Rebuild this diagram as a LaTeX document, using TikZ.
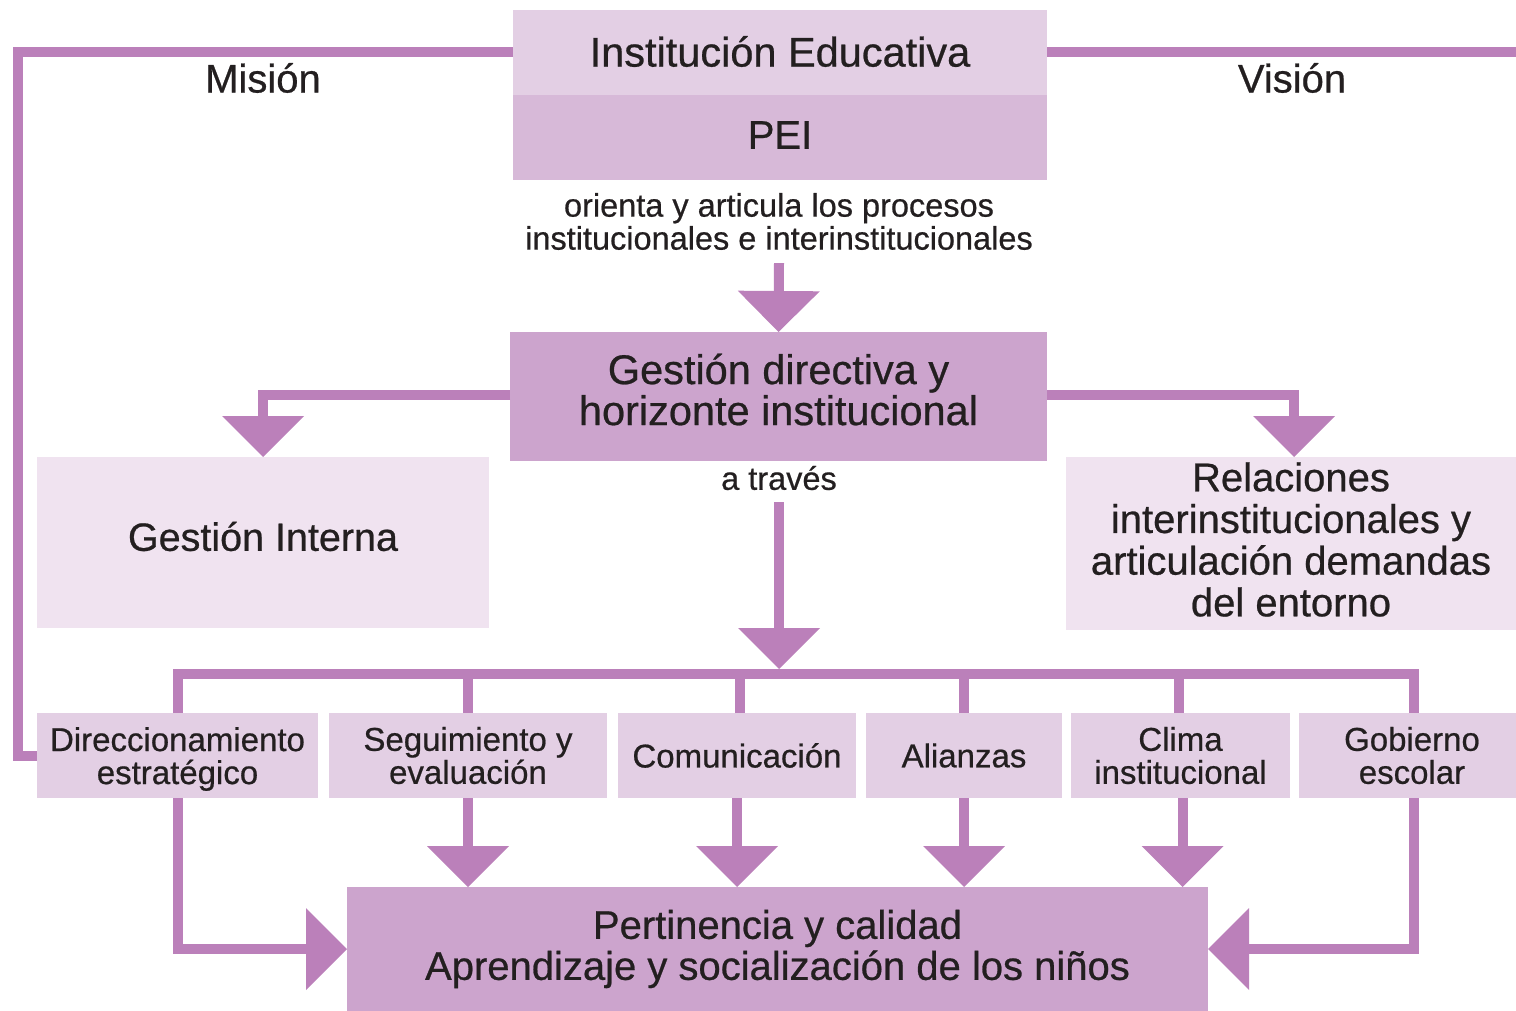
\documentclass[tikz,border=0pt]{standalone}
\usepackage{fontspec}
\setmainfont{Liberation Sans}[FakeBold=0.6]
\usetikzlibrary{arrows.meta,calc}
\definecolor{lc}{HTML}{BB80BA}
\definecolor{cdark}{HTML}{CCA4CD}
\definecolor{cmid}{HTML}{D7B9D8}
\definecolor{clight}{HTML}{E3CFE4}
\definecolor{cvlight}{HTML}{F0E3F0}
\definecolor{tc}{HTML}{231F20}
\tikzset{
  conn/.style={draw=lc, line width=10pt, line join=miter},
  arr/.style={conn, -{Triangle[length=41pt,width=82pt,line width=0pt]}},
  box/.style={rectangle, inner sep=0pt, outer sep=0pt, align=center, text=tc},
  lbl/.style={inner sep=0pt, align=center, text=tc},
  big/.style={font=\fontsize{40}{41}\selectfont},
  bigger/.style={font=\fontsize{41.5}{41}\selectfont},
  mid/.style={font=\fontsize{33}{33}\selectfont},
  small/.style={font=\fontsize{32.5}{33}\selectfont},
}
\begin{document}
\begin{tikzpicture}[x=1pt,y=-1pt]
\useasboundingbox (0,0) rectangle (1516,1011);
% top boxes
\node[box, bigger, fill=clight, minimum width=534, minimum height=85] (inst) at (780,52.5) {};
\node[lbl, bigger] (instt) at (780,51.5) {Institución Educativa};
\node[box, big, fill=cmid, minimum width=534, minimum height=85] (pei) at (780,137.5) {};
\node[lbl, big] (peit) at (780,135) {PEI};
\node[lbl, big] (mis) at (263,78) {Misión};
\node[lbl, big] (vis) at (1292,78) {Visión};
\node[lbl, small, inner sep=5pt] (ori) at (779,221.5) {orienta y articula los procesos\\institucionales e interinstitucionales};
\node[box, fill=cdark, minimum width=537, minimum height=129] (ges) at (778.5,396.5) {};
\node[lbl, bigger] (gest) at (778.5,389.5) {Gestión directiva y\\horizonte institucional};
\node[box, fill=cvlight, minimum width=452, minimum height=171] (gi) at (263,542.5) {};
\node[lbl, font=\fontsize{39.5}{40}\selectfont] (git) at (263,536.5) {Gestión Interna};
\node[box, fill=cvlight, minimum width=450, minimum height=173] (rel) at (1291,543.5) {};
\node[lbl, font=\fontsize{40}{41.7}\selectfont] (relt) at (1291,539.5) {Relaciones\\interinstitucionales y\\articulación demandas\\del entorno};
\node[lbl, small] (atr) at (779,478) {a través};
% row of boxes
\node[box, fill=clight, minimum width=281, minimum height=85] (dir) at (177.5,755.5) {};
\node[lbl, mid] (dirt) at (177.5,759) {Direccionamiento\\estratégico};
\node[box, mid, fill=clight, minimum width=278, minimum height=85] (seg) at (468,755.5) {Seguimiento y\\evaluación};
\node[box, mid, fill=clight, minimum width=238, minimum height=85] (com) at (737,755.5) {Comunicación};
\node[box, mid, fill=clight, minimum width=196, minimum height=85] (ali) at (964,755.5) {Alianzas};
\node[box, mid, fill=clight, minimum width=219, minimum height=85] (cli) at (1180.5,755.5) {Clima\\institucional};
\node[box, mid, fill=clight, minimum width=226, minimum height=85] (gob) at (1412,755.5) {Gobierno\\escolar};
\node[box, big, fill=cdark, minimum width=861, minimum height=124] (per) at (777.5,949) {Pertinencia y calidad\\Aprendizaje y socialización de los niños};
% connectors
\coordinate (visend) at (1516,52.5);
\coordinate (busL) at (177.5,674);
\coordinate (busR) at (1414,674);
\draw[conn] (inst.west) -| ([xshift=-19pt]dir.west) -- (dir.west);
\draw[conn] (inst.east) -- (visend);
\draw[arr] ([yshift=-8pt]ori.south) -- (ges.north);
\draw[arr] ([yshift=1.5pt]ges.west) -| (gi.north);
\draw[arr] ([yshift=1.5pt]ges.east) -| ([xshift=3pt]rel.north);
\draw[arr] ([yshift=-12pt]atr.south) -- ([yshift=5pt]atr.south |- busL);
\draw[conn] (dir.north) |- (busR) -- (busR |- gob.north);
\draw[conn] (seg.north) -- (seg.north |- busL);
\draw[conn] ([xshift=3pt]com.north) -- ([xshift=3pt]com.north |- busL);
\draw[conn] (ali.north) -- (ali.north |- busL);
\draw[conn] ([xshift=-2pt]cli.north) -- ([xshift=-2pt]cli.north |- busL);
\draw[arr] (seg.south) -- (seg.south |- per.north);
\draw[arr] (com.south) -- (com.south |- per.north);
\draw[arr] (ali.south) -- (ali.south |- per.north);
\draw[arr] ([xshift=2pt]cli.south) -- ([xshift=2pt]cli.south |- per.north);
\draw[arr] (dir.south) |- (per.west);
\draw[arr] ([xshift=2pt]gob.south) |- (per.east);
\end{tikzpicture}
\end{document}
